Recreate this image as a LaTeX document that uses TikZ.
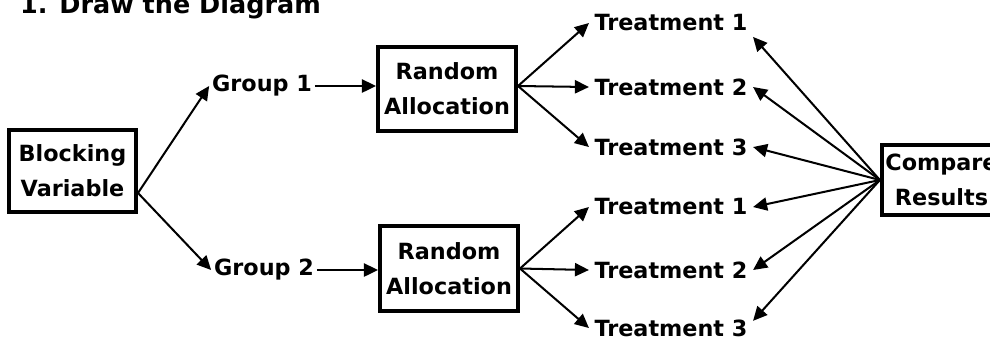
\documentclass[tikz,border=0pt]{standalone}
\usepackage{fontspec}
\setmainfont{DejaVu Sans}
\usepackage{tikz}
\usetikzlibrary{arrows.meta,positioning,calc}

\begin{document}
\begin{tikzpicture}[
        x=0.02cm, y=-0.02cm,
        font=\fontsize{12.7}{20}\selectfont\bfseries,
        box/.style={rectangle, draw, line width=2.3pt, align=center, inner sep=2pt},
        lab/.style={inner sep=3pt},
        grp/.style={inner sep=1.5pt},
        arr/.style={line width=1.15pt, -{Triangle[length=8pt,width=7.5pt]}}
    ]
        \useasboundingbox (0,0) rectangle (990,343);

        \node[anchor=base west, font=\fontsize{14.5}{18}\selectfont\bfseries] (title) at (14,13) {1. Draw the Diagram};

        \node[box, minimum width=2.54cm, minimum height=1.64cm] (block) at (72.5,171) {Blocking\\Variable};
        \node[grp] (g1) at (262,86) {Group 1};
        \node[grp] (g2) at (264,270) {Group 2};
        \node[box, minimum width=2.76cm, minimum height=1.68cm] (ra1) at (447,89) {Random\\Allocation};
        \node[box, minimum width=2.76cm, minimum height=1.7cm] (ra2) at (449,268.5) {Random\\Allocation};
        \node[box, minimum width=2.34cm, minimum height=1.4cm] (cmp) at (941.5,180) {Compare\\Results};

        \node[lab] (t11) at (671,23) {Treatment 1};
        \node[lab] (t12) at (671,87) {Treatment 2};
        \node[lab] (t13) at (671,147) {Treatment 3};
        \node[lab] (t21) at (671,207) {Treatment 1};
        \node[lab] (t22) at (671,270) {Treatment 2};
        \node[lab] (t23) at (671,328) {Treatment 3};

        \coordinate (bv) at ($(block.east)+(0,22)$);
        \coordinate (r1) at (g1.east -| ra1.east);
        \coordinate (r2) at (ra2.east);
        \draw[arr] (bv) -- (g1.west);
        \draw[arr] (bv) -- (g2.west);
        \draw[arr] (g1.east) -- (g1.east -| ra1.west);
        \draw[arr] (g2.east) -- (g2.east -| ra2.west);

        \draw[arr] (r1) -- (t11.west);
        \draw[arr] (r1) -- (t12.west);
        \draw[arr] (r1) -- (t13.west);
        \draw[arr] (r2) -- (t21.west);
        \draw[arr] (r2) -- (t22.west);
        \draw[arr] (r2) -- (t23.west);

        \draw[arr] (cmp.west) -- (t11.south east);
        \draw[arr] (cmp.west) -- (t12.east);
        \draw[arr] (cmp.west) -- (t13.east);
        \draw[arr] (cmp.west) -- (t21.east);
        \draw[arr] (cmp.west) -- (t22.east);
        \draw[arr] (cmp.west) -- (t23.5);
    \end{tikzpicture}
\end{document}
